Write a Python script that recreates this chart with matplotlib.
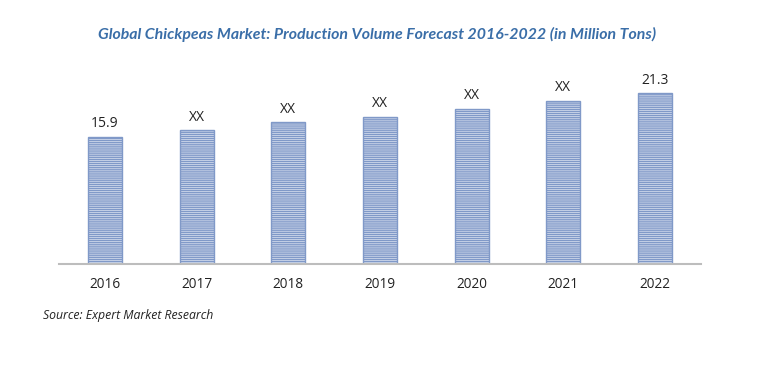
import matplotlib
matplotlib.use("Agg")
import matplotlib.pyplot as plt

years = ["2016", "2017", "2018", "2019", "2020", "2021", "2022"]
values = [15.9, 16.7, 17.7, 18.4, 19.4, 20.4, 21.3]
labels = ["15.9", "XX", "XX", "XX", "XX", "XX", "21.3"]

plt.rcParams['hatch.linewidth'] = 1.0
plt.rcParams['hatch.color'] = '#8AA0CB'

W, H = 766, 378
fig = plt.figure(figsize=(W / 100, H / 100), dpi=100)
# axes: x 59..701, baseline y=264, top y=60
ax = fig.add_axes([59 / W, 1 - 264 / H, (701 - 59) / W, (264 - 60) / H])

x = range(len(years))
bars = ax.bar(x, values, width=0.37, color='#E0E6F2', edgecolor='#8099C8',
              linewidth=1.0, hatch='--------', zorder=2)

for xi, v, lab in zip(x, values, labels):
    ax.annotate(lab, (xi, v), xytext=(0, 4), textcoords='offset points',
                ha='center', va='bottom', fontsize=10, color='#222222',
                family=['Open Sans', 'DejaVu Sans'])

ax.set_xlim(-0.5, len(years) - 0.5)
ax.set_ylim(0, 25.46)
ax.set_xticks(list(x))
ax.set_xticklabels(years, fontsize=9.8, color='#222222', family=['Open Sans', 'DejaVu Sans'])
ax.tick_params(axis='x', length=0, pad=9)
ax.set_yticks([])
for s in ['top', 'right', 'left']:
    ax.spines[s].set_visible(False)
ax.spines['bottom'].set_color('#BDBDBD')
ax.spines['bottom'].set_linewidth(1.5)

fig.text(377 / W, 1 - 34 / H,
         "Global Chickpeas Market: Production Volume Forecast 2016-2022 (in Million Tons)",
         ha='center', va='center', fontsize=11.4, fontweight='bold', fontstyle='italic',
         color='#3A6EA8', family=['Lato', 'DejaVu Sans'])

fig.text(43 / W, 1 - 315 / H, "Source: Expert Market Research",
         ha='left', va='center', fontsize=8.8, fontstyle='italic', color='#222222',
         family=['Open Sans', 'DejaVu Sans'])

fig.savefig("out.png", dpi=100, facecolor='white')
